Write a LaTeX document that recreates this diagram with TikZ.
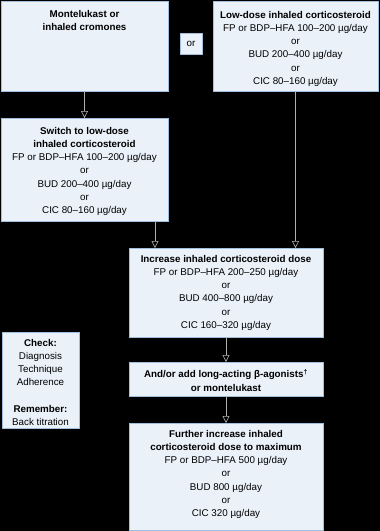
\documentclass[tikz,border=0pt]{standalone}
\usepackage{fontspec}
\setmainfont{Liberation Sans}
\usetikzlibrary{arrows.meta}
\definecolor{boxfill}{RGB}{234,241,249}
\definecolor{boxline}{RGB}{160,190,222}
\definecolor{arrgray}{RGB}{175,175,175}
\tikzset{
  box/.style={draw=boxline, fill=boxfill, line width=0.8pt, inner sep=0pt, outer sep=0pt, anchor=north west},
  txt/.style={font=\fontsize{9.8}{13.2}\selectfont, align=center, anchor=north, inner sep=0pt, text=black},
  arr/.style={draw=arrgray, line width=0.6pt, -{Triangle[open, length=7pt, width=7pt, fill=black]}}
}
\begin{document}
\begin{tikzpicture}[x=1pt,y=-1pt]
\fill[black] (0,0) rectangle (380,531);
\useasboundingbox (0,0) rectangle (380,531);
% boxes
\node[box, minimum width=167pt, minimum height=90pt] (A) at (1,1) {};
\node[box, minimum width=22pt, minimum height=21pt] (OR) at (180,33) {};
\node[box, minimum width=165pt, minimum height=90pt] (B) at (213,1) {};
\node[box, minimum width=167pt, minimum height=103pt] (C) at (1,118) {};
\node[box, minimum width=194pt, minimum height=89pt] (D) at (129,248) {};
\node[box, minimum width=194pt, minimum height=34pt] (E) at (129,362) {};
\node[box, minimum width=194pt, minimum height=107pt] (F) at (129,423) {};
\node[box, minimum width=77pt, minimum height=96pt] (K) at (2,332) {};
% texts
\node[txt] (tA) at (84.5,10) {\textbf{Montelukast or}\\\textbf{inhaled cromones}};
\node[txt, anchor=center] (tOR) at (OR.center) {or};
\node[txt] (tB) at (295.5,11) {\textbf{Low-dose inhaled corticosteroid}\\FP or BDP–HFA 100–200 µg/day\\or\\BUD 200–400 µg/day\\or\\CIC 80–160 µg/day};
\node[txt] (tC) at (84.5,127) {\textbf{Switch to low-dose}\\\textbf{inhaled corticosteroid}\\FP or BDP–HFA 100–200 µg/day\\or\\BUD 200–400 µg/day\\or\\CIC 80–160 µg/day};
\node[txt] (tD) at (226,255) {\textbf{Increase inhaled corticosteroid dose}\\FP or BDP–HFA 200–250 µg/day\\or\\BUD 400–800 µg/day\\or\\CIC 160–320 µg/day};
\node[txt] (tE) at (226,369) {\textbf{And/or add long-acting β-agonists\textsuperscript{†}}\\\textbf{or montelukast}};
\node[txt] (tF) at (226,430) {\textbf{Further increase inhaled}\\\textbf{corticosteroid dose to maximum}\\FP or BDP–HFA 500 µg/day\\or\\BUD 800 µg/day\\or\\CIC 320 µg/day};
\node[txt] (tK) at (40.5,339) {\textbf{Check:}\\Diagnosis\\Technique\\Adherence\\[13.2pt]\textbf{Remember:}\\Back titration};
% connectors
\coordinate (cx) at (155,0);
\draw[arr] (A.south) -- (C.north);
\draw[arr] (C.south -| cx) -- (D.north -| cx);
\draw[arr] (B.south) -- (D.north -| B.south);
\draw[arr] (D.south) -- (E.north);
\draw[arr] (E.south) -- (F.north);
\end{tikzpicture}
\end{document}
